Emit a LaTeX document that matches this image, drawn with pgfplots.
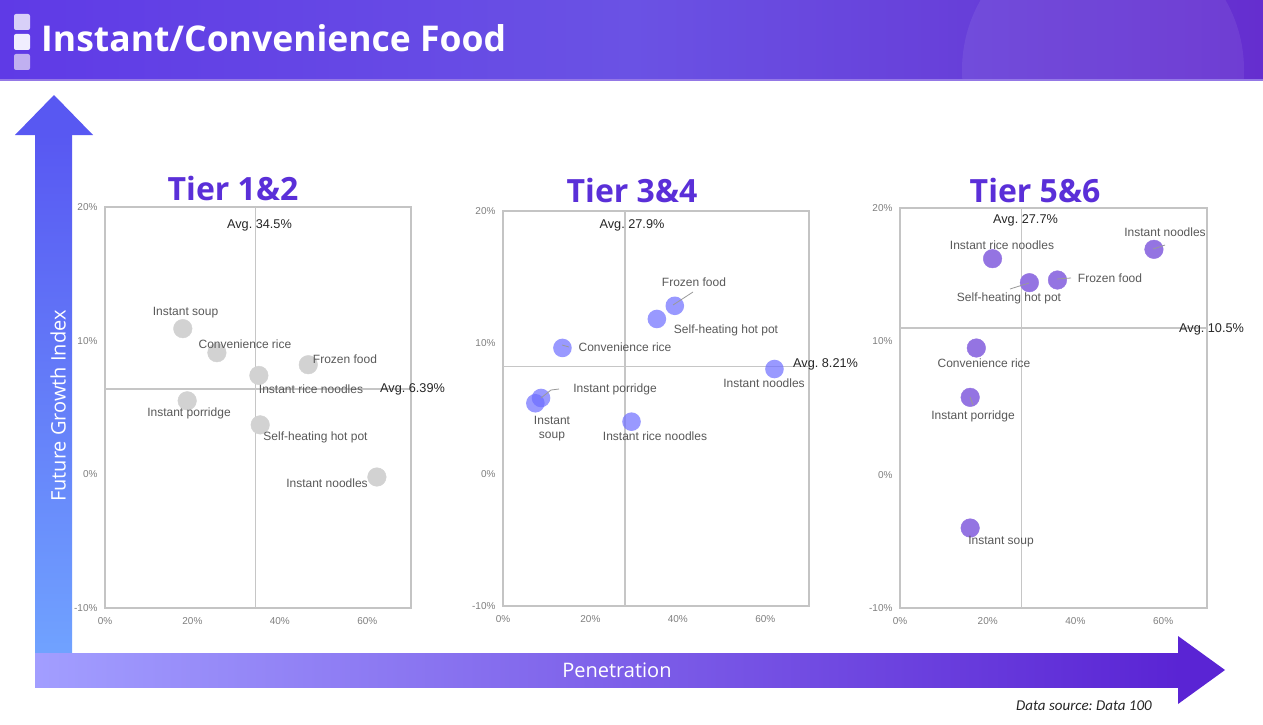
\documentclass[border=0pt]{standalone}
\usepackage{pgfplots}
\pgfplotsset{compat=1.18}
\usepackage{fontspec}
\setmainfont{Liberation Sans}
\newfontfamily\titlefont{Open Sans}
\newfontfamily\srcfont{Carlito}
\frenchspacing
\definecolor{hdrA}{HTML}{5F3AE6}
\definecolor{hdrB}{HTML}{6A52E4}
\definecolor{hdrC}{HTML}{652ECF}
\definecolor{hdrLine}{HTML}{9478E6}
\definecolor{tier}{HTML}{5A2FD8}
\definecolor{boxc}{HTML}{C4C4C4}
\definecolor{avgc}{HTML}{C6C6C6}
\definecolor{lab}{HTML}{595959}
\definecolor{avgt}{HTML}{262626}
\definecolor{tickc}{HTML}{7F7F7F}
\definecolor{mone}{HTML}{D2D2D2}
\definecolor{mtwo}{HTML}{6E6EFF}
\definecolor{mthree}{HTML}{9474E2}
\definecolor{vA}{HTML}{5858F2}
\definecolor{vB}{HTML}{70A2FF}
\definecolor{hA}{HTML}{A29EFF}
\definecolor{hB}{HTML}{5A24D4}
\definecolor{sqA}{HTML}{D8D0F8}
\definecolor{sqB}{HTML}{F0EEFE}
\definecolor{sqC}{HTML}{C0B0F0}
\pgfplotsset{panel/.style={scale only axis, anchor=south west,
  xmin=0,xmax=70,ymin=-10,ymax=20,
  xtick={0,20,40,60}, xticklabels={0\%,20\%,40\%,60\%},
  ytick={-10,0,10,20}, yticklabels={-10\%,0\%,10\%,20\%},
  major tick length=0pt,
  axis line style={draw=boxc, line width=2.2pt},
  tick label style={font=\fontsize{10}{12}\selectfont, text=tickc},
  xticklabel style={yshift=-6pt},
  yticklabel style={xshift=-4pt},
  clip=false}}
\tikzset{lbl/.style={font=\fontsize{12}{14}\selectfont, text=lab, inner sep=0pt},
  avgl/.style={font=\fontsize{12.7}{14}\selectfont, text=avgt, inner sep=0pt},
  tiert/.style={font=\titlefont\bfseries\fontsize{32}{34}\selectfont, text=tier, inner sep=0pt},
  lead/.style={draw=black!40, line width=0.8pt}}
\begin{document}
\begin{tikzpicture}[x=1pt,y=1pt]
\useasboundingbox (0,0) rectangle (1263,-725);
\fill[white] (0,0) rectangle (1263,-725);
% header
\shade[left color=hdrA, right color=hdrC, middle color=hdrB] (0,0) rectangle (1263,-80);
\begin{scope}
\clip (0,0) rectangle (1263,-80);
\fill[white, opacity=0.07] (1103,-70) circle (141);
\end{scope}
\fill[hdrLine] (0,-79) rectangle (1263,-81);
\fill[sqA, rounded corners=2pt] (14,-14) rectangle (30,-30);
\fill[sqB, rounded corners=2pt] (14,-34) rectangle (30,-50);
\fill[sqC, rounded corners=2pt] (14,-54) rectangle (30,-70);
\node[anchor=west, text=white, inner sep=0pt, font=\titlefont\bfseries\fontsize{35.5}{40}\selectfont] at (41,-38) {Instant/Convenience Food};

% Panel 1
\begin{axis}[panel, at={(105pt,-608pt)}, width=306pt, height=401pt]
\addplot[avgc, line width=1.2pt, mark=none] coordinates {(34.5,-10) (34.5,20)};
\addplot[avgc, line width=1.2pt, mark=none] coordinates {(0,6.39) (70,6.39)};
\addplot[only marks, mark=*, mark size=9.3pt, color=mone, mark options={draw=none, fill=mone}] coordinates {
(17.8,10.9) (25.6,9.1) (35.2,7.4) (46.5,8.2) (18.8,5.5) (35.5,3.7) (62.2,-0.2)};
\end{axis}
\node[tiert] at (233,-188) {Tier 1\&2};
\node[avgl] at (259.5,-225) {Avg. 34.5\%};
\node[avgl, anchor=west] at (380,-389) {Avg. 6.39\%};
\node[lbl] at (185.5,-313) {Instant soup};
\node[lbl] at (245,-344) {Convenience rice};
\node[lbl] at (345,-359) {Frozen food};
\node[lbl] at (311,-389) {Instant rice noodles};
\node[lbl] at (189,-413) {Instant porridge};
\node[lbl] at (315.5,-437) {Self-heating hot pot};
\node[lbl] at (327,-483) {Instant noodles};

% Panel 2
\begin{axis}[panel, at={(503pt,-606pt)}, width=306pt, height=395pt]
\addplot[avgc, line width=1.2pt, mark=none] coordinates {(27.9,-10) (27.9,20)};
\addplot[avgc, line width=1.2pt, mark=none] coordinates {(0,8.21) (70,8.21)};
\addplot[only marks, mark=*, mark size=9.3pt, color=mtwo, mark options={draw=none, draw opacity=0, fill=mtwo, fill opacity=0.7}] coordinates {
(39.3,12.8) (35.2,11.8) (13.6,9.6) (62.1,8.0) (8.7,5.8) (7.4,5.4) (29.4,4.0)};
\end{axis}
\node[tiert] at (632,-190) {Tier 3\&4};
\node[avgl] at (632,-225) {Avg. 27.9\%};
\node[avgl, anchor=west] at (793,-364) {Avg. 8.21\%};
\draw[lead] (673,-305) -- (693,-292);
\draw[lead] (562,-345) -- (569,-347);
\draw[lead] (541,-398) -- (551,-390) -- (559,-389);
\node[lbl] at (694,-282) {Frozen food};
\node[lbl] at (726,-330) {Self-heating hot pot};
\node[lbl] at (625,-347) {Convenience rice};
\node[lbl] at (764,-383) {Instant noodles};
\node[lbl] at (615,-389) {Instant porridge};
\node[lbl] at (552,-420) {Instant};
\node[lbl] at (552,-437) {soup};
\node[lbl] at (655,-436) {Instant rice noodles};

% Panel 3
\begin{axis}[panel, at={(900pt,-608pt)}, width=307pt, height=400pt]
\addplot[avgc, line width=1.2pt, mark=none] coordinates {(27.7,-10) (27.7,20)};
\addplot[avgc, line width=1.2pt, mark=none] coordinates {(0,11.0) (70,11.0)};
\addplot[only marks, mark=*, mark size=9.3pt, color=mthree, mark options={draw=none, fill=mthree}] coordinates {
(57.9,16.9) (21.1,16.2) (29.5,14.4) (35.9,14.6) (17.4,9.5) (16.0,5.8) (16.0,-4.0)};
\end{axis}
\node[tiert] at (1035,-190) {Tier 5\&6};
\node[avgl] at (1025.5,-220) {Avg. 27.7\%};
\node[avgl, anchor=west] at (1179,-329) {Avg. 10.5\%};
\draw[lead] (1153,-249) -- (1165,-245);
\draw[lead] (1057,-279) -- (1071,-278);
\draw[lead] (1029,-283) -- (1010,-289);
\draw[lead] (970,-397) -- (973,-405);
\node[lbl] at (1165,-232) {Instant noodles};
\node[lbl] at (1002,-245) {Instant rice noodles};
\node[lbl] at (1110,-278) {Frozen food};
\node[lbl] at (1009,-298) {Self-heating hot pot};
\node[lbl] at (984,-363) {Convenience rice};
\node[lbl] at (973,-416) {Instant porridge};
\node[lbl] at (1001,-542) {Instant soup};

% vertical arrow
\shade[top color=vA, bottom color=vB] (35,-134) rectangle (72,-653);
\fill[vA] (15,-135) -- (54,-95) -- (93,-135) -- cycle;
\node[rotate=90, text=white, inner sep=0pt, font=\titlefont\fontsize{20}{22}\selectfont] at (58,-406) {Future Growth Index};
% horizontal arrow
\shade[left color=hA, right color=hB] (35,-653) rectangle (1180,-687);
\fill[hB] (1178,-636) -- (1225,-670) -- (1178,-704) -- cycle;
\node[text=white, inner sep=0pt, font=\titlefont\fontsize{20}{22}\selectfont] at (617,-670) {Penetration};
\node[anchor=east, text=black!85, inner sep=0pt, font=\srcfont\itshape\fontsize{15}{17}\selectfont] at (1152,-706) {Data source: Data 100};
\end{tikzpicture}
\end{document}
